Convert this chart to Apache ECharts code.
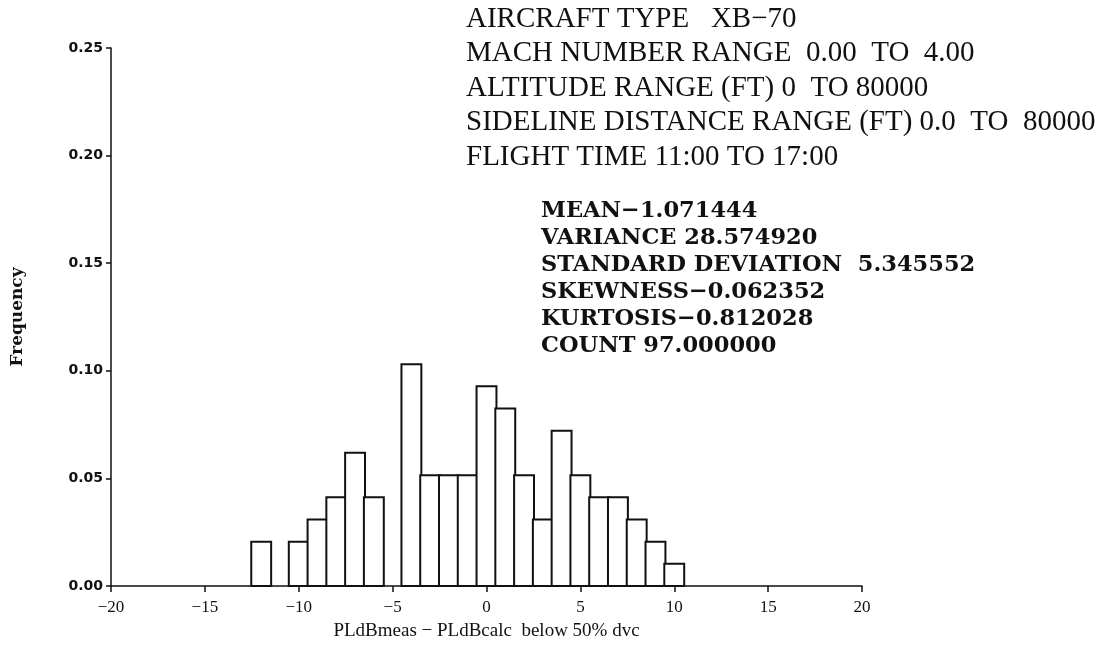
<!DOCTYPE html>
<html>
<head>
<meta charset="utf-8">
<script src="https://cdn.jsdelivr.net/npm/echarts@6/dist/echarts.min.js"></script>
<style>
  html, body { margin: 0; padding: 0; background: #fff; }
  #chart { width: 1105px; height: 645px; }
</style>
</head>
<body>
<div id="chart"></div>
<script>
// Histogram bins: centre of each 1-dB bin and its relative frequency (count / 97)
const binCenters = [-12, -10, -9, -8, -7, -6, -4, -3, -2, -1, 0, 1, 2, 3, 4, 5, 6, 7, 8, 9, 10];
const binFrequencies = [0.0206, 0.0206, 0.0309, 0.0412, 0.0619, 0.0412, 0.1031, 0.0515, 0.0515, 0.0515,
                        0.0928, 0.0825, 0.0515, 0.0309, 0.0722, 0.0515, 0.0412, 0.0412, 0.0309, 0.0206, 0.0103];

// Axis ticks
const xTicks = [-20, -15, -10, -5, 0, 5, 10, 15, 20];
const yTicks = [0.00, 0.05, 0.10, 0.15, 0.20, 0.25];

// Annotation text
const headerLines = [
  'AIRCRAFT TYPE   XB\u221270',
  'MACH NUMBER RANGE  0.00  TO  4.00',
  'ALTITUDE RANGE (FT) 0  TO 80000',
  'SIDELINE DISTANCE RANGE (FT) 0.0  TO  80000',
  'FLIGHT TIME 11:00 TO 17:00'
];
const statLines = [
  'MEAN\u22121.071444',
  'VARIANCE 28.574920',
  'STANDARD DEVIATION  5.345552',
  'SKEWNESS\u22120.062352',
  'KURTOSIS\u22120.812028',
  'COUNT 97.000000'
];

const binWidth = 1.06;

const chart = echarts.init(document.getElementById('chart'));

const graphics = [];
headerLines.forEach((t, i) => {
  graphics.push({
    type: 'text', x: 466, y: 19 + i * 34.5,
    style: { text: t, font: '29px "Liberation Serif"', fill: '#111', verticalAlign: 'middle' }
  });
});
statLines.forEach((t, i) => {
  graphics.push({
    type: 'text', x: 541, y: 211 + i * 27,
    style: { text: t, font: 'bold 22.5px "DejaVu Serif"', fill: '#111', verticalAlign: 'middle' }
  });
});

chart.setOption({
  animation: false,
  backgroundColor: '#fff',
  grid: { left: 111, right: 243, top: 48, bottom: 59, outerBoundsMode: 'none', containLabel: false },
  xAxis: {
    type: 'value', min: xTicks[0], max: xTicks[xTicks.length - 1], interval: 5,
    name: 'PLdBmeas \u2212 PLdBcalc  below 50% dvc',
    nameLocation: 'middle', nameGap: 36,
    nameTextStyle: { fontFamily: 'Liberation Serif', fontSize: 19, color: '#111' },
    axisLine: { onZero: false, lineStyle: { color: '#111', width: 1.5 } },
    axisTick: { show: true, length: 6, inside: false, lineStyle: { color: '#111', width: 1.5 } },
    axisLabel: {
      margin: 13, fontFamily: 'Liberation Serif', fontSize: 17, color: '#111',
      formatter: v => (v < 0 ? '\u2212' + Math.abs(v) : String(v))
    },
    splitLine: { show: false }
  },
  yAxis: {
    type: 'value', min: yTicks[0], max: yTicks[yTicks.length - 1], interval: 0.05,
    name: 'Frequency', nameLocation: 'middle', nameGap: 85, nameRotate: 90,
    nameTextStyle: { fontFamily: 'DejaVu Serif', fontWeight: 'bold', fontSize: 17, color: '#111' },
    axisLine: { show: true, onZero: false, lineStyle: { color: '#111', width: 1.5 } },
    axisTick: { show: true, length: 5, lineStyle: { color: '#111', width: 1.5 } },
    axisLabel: {
      margin: 8, fontFamily: 'DejaVu Sans', fontWeight: 'bold', fontSize: 14, color: '#111',
      formatter: v => v.toFixed(2)
    },
    splitLine: { show: false }
  },
  series: [{
    type: 'custom',
    data: binCenters.map((c, i) => [c, binFrequencies[i]]),
    renderItem: (params, api) => {
      const x = api.value(0);
      const y = api.value(1);
      const topLeft = api.coord([x - binWidth / 2, y]);
      const bottomRight = api.coord([x + binWidth / 2, 0]);
      return {
        type: 'rect',
        shape: {
          x: topLeft[0], y: topLeft[1],
          width: bottomRight[0] - topLeft[0], height: bottomRight[1] - topLeft[1]
        },
        style: { fill: '#fff', stroke: '#111', lineWidth: 2 }
      };
    }
  }],
  graphic: graphics
});
</script>
</body>
</html>
